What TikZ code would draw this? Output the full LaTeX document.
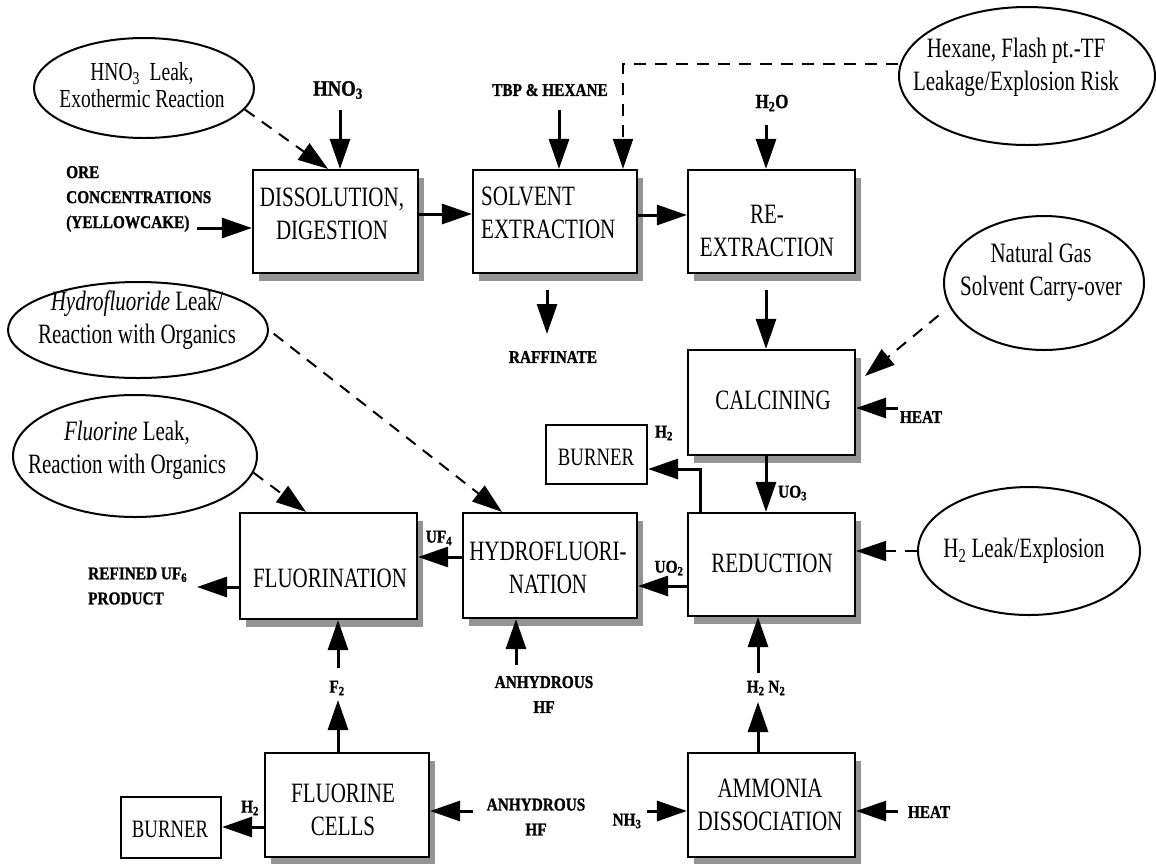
\documentclass[tikz,border=0pt]{standalone}
\usepackage{fontspec}
\usetikzlibrary{arrows.meta,shapes.geometric,shadows}
\newfontfamily\txtfont[FakeStretch=0.75]{Liberation Serif}
\newfontfamily\lblfont[FakeStretch=0.85,FakeBold=1.2]{Liberation Serif}

\tikzset{
  procbox/.style={draw, line width=2.2pt, fill=white, inner sep=0pt,
    drop shadow={shadow xshift=6pt, shadow yshift=-8pt, fill=black!42, opacity=1}},
  burnerbox/.style={draw, line width=2.2pt, fill=white, inner sep=0pt},
  boxtext/.style={font=\txtfont\fontsize{28}{33}\selectfont, align=center, inner sep=0pt},
  burnertext/.style={font=\txtfont\fontsize{25}{30}\selectfont, inner sep=0pt},
  hazard/.style={draw, ellipse, line width=2pt, inner sep=0pt},
  hazardtext/.style={font=\txtfont\fontsize{28}{33}\selectfont, align=center, inner sep=0pt},
  tag/.style={font=\lblfont\bfseries\fontsize{18}{25}\selectfont, inner sep=0pt, align=center},
  flow/.style={line width=3pt, -{Triangle[length=30pt,width=20pt]}},
  risk/.style={line width=2pt, dash pattern=on 12pt off 9pt, -{Triangle[length=30pt,width=20pt]}},
}

\begin{document}
\begin{tikzpicture}[x=1pt,y=-1pt]
\fill[white] (0,0) rectangle (1156,863);
\useasboundingbox (0,0) rectangle (1156,863);

% ---------- process boxes ----------
\node[procbox, minimum width=165pt, minimum height=103pt] (dis) at (335.5,221.5) {};
\node[procbox, minimum width=164pt, minimum height=103pt] (sol) at (555,221.5) {};
\node[procbox, minimum width=167pt, minimum height=103pt] (rex) at (771.5,221.5) {};
\node[procbox, minimum width=167pt, minimum height=105pt] (cal) at (771.5,402.5) {};
\node[procbox, minimum width=167pt, minimum height=103pt] (red) at (771.5,564.5) {};
\node[procbox, minimum width=174pt, minimum height=105pt] (hyd) at (550,565.5) {};
\node[procbox, minimum width=177pt, minimum height=106pt] (flu) at (328.5,566) {};
\node[procbox, minimum width=164pt, minimum height=104pt] (fc) at (347,805) {};
\node[procbox, minimum width=167pt, minimum height=104pt] (amm) at (771.5,805) {};
\node[burnerbox, minimum width=101pt, minimum height=59pt] (burnA) at (596.5,454.5) {};
\node[burnerbox, minimum width=100pt, minimum height=61pt] (burnB) at (171,827.5) {};

% ---------- box captions ----------
\node[boxtext] (dist) at (332,213.5) {DISSOLUTION,\\DIGESTION};
\node[boxtext, align=left, anchor=west] (solt) at (481,212.5) {SOLVENT\\EXTRACTION};
\node[boxtext] (rext) at (767,231) {RE-\\EXTRACTION};
\node[boxtext] (calt) at (773,400) {CALCINING};
\node[boxtext] (redt) at (772,563) {REDUCTION};
\node[boxtext] (hydt) at (548,568) {HYDROFLUORI-\\NATION};
\node[boxtext] (flut) at (330,578) {FLUORINATION};
\node[boxtext] (fct) at (343,809.5) {FLUORINE\\CELLS};
\node[boxtext] (ammt) at (770,805) {AMMONIA\\DISSOCIATION};
\node[burnertext] (burnAt) at (596,457) {BURNER};
\node[burnertext] (burnBt) at (170,829) {BURNER};

% ---------- hazard ellipses ----------
\node[hazard, minimum width=220pt, minimum height=100pt] (ell1) at (144,88) {};
\node[hazardtext, font=\txtfont\fontsize{26}{27}\selectfont] (ell1t) at (142,85) {HNO\textsubscript{3}\ \ Leak,\\Exothermic Reaction};
\node[hazard, minimum width=256pt, minimum height=138pt] (ell2) at (1027,76) {};
\node[hazardtext] (ell2t) at (1016,67.5) {Hexane, Flash pt.-TF\\Leakage/Explosion Risk};
\node[hazard, minimum width=200pt, minimum height=134pt] (ell3) at (1044,283) {};
\node[hazardtext] (ell3t) at (1041,272.5) {Natural Gas\\Solvent Carry-over};
\node[hazard, minimum width=260pt, minimum height=96pt] (ell4) at (138,330) {};
\node[hazardtext] (ell4t) at (137,320) {\textit{Hydrofluoride} Leak/\\Reaction with Organics};
\node[hazard, minimum width=244pt, minimum height=122pt] (ell5) at (135,456) {};
\node[hazardtext] (ell5t) at (127,450.5) {\textit{Fluorine} Leak,\\Reaction with Organics};
\node[hazard, minimum width=222pt, minimum height=128pt] (ell6) at (1029,551) {};
\node[hazardtext] (ell6t) at (1024,551) {H\textsubscript{2} Leak/Explosion};

% ---------- stream labels ----------
\node[tag, font=\lblfont\bfseries\fontsize{22}{25}\selectfont] (hno3t) at (338,90) {HNO\textsubscript{3}};
\node[tag, align=left, anchor=west] (oret) at (66,199) {ORE\\CONCENTRATIONS\\(YELLOWCAKE)};
\node[tag] (tbpt) at (550,90) {TBP \& HEXANE};
\node[tag, font=\lblfont\bfseries\fontsize{20}{25}\selectfont] (h2ot) at (772,103) {H\textsubscript{2}O};
\node[tag] (raft) at (553,357) {RAFFINATE};
\node[tag] (heatAt) at (921,417) {HEAT};
\node[tag, anchor=west] (uo3t) at (778,493) {UO\textsubscript{3}};
\node[tag] (h2At) at (664,433) {H\textsubscript{2}};
\node[tag] (uo2t) at (669,568) {UO\textsubscript{2}};
\node[tag] (uf4t) at (439,538) {UF\textsubscript{4}};
\node[tag, align=left, anchor=west] (prodt) at (88,586) {REFINED UF\textsubscript{6}\\PRODUCT};
\node[tag] (hfAt) at (544,694.5) {ANHYDROUS\\HF};
\node[tag] (hfBt) at (536,817) {ANHYDROUS\\HF};
\node[tag] (f2t) at (337,688) {F\textsubscript{2}};
\node[tag] (h2Bt) at (250,808) {H\textsubscript{2}};
\node[tag] (nh3t) at (627,821) {NH\textsubscript{3}};
\node[tag] (heatBt) at (929,812) {HEAT};
\node[tag] (h2n2t) at (766,688) {H\textsubscript{2} N\textsubscript{2}};

% ---------- free ends of the streams ----------
\coordinate (hno3s) at (340,110);
\coordinate (ores) at (197,228);
\coordinate (tbps) at (559,110);
\coordinate (h2os) at (766,125);
\coordinate (rafs) at (547,290);
\coordinate (rafe) at (547,334);
\coordinate (rexout) at (766,290);
\coordinate (heatAs) at (898,408);
\coordinate (prode) at (197,587);
\coordinate (hfAs) at (516,665);
\coordinate (f2a) at (338,700);
\coordinate (f2b) at (338,668);
\coordinate (hfBs) at (473,811);
\coordinate (nh3s) at (647,811);
\coordinate (heatBs) at (898,811);
\coordinate (n2a) at (758,702);
\coordinate (n2b) at (758,673);
\coordinate (hexc) at (623,64);
\coordinate (calrisk) at (865,376);

% ---------- process streams ----------
\draw[flow] (hno3s) -- (hno3s |- dis.north);
\draw[flow] (ores) -- (ores -| dis.west);
\draw[flow] (dis.east |- 0,214) -- (sol.west |- 0,214);
\draw[flow] (tbps) -- (tbps |- sol.north);
\draw[flow] (sol.east |- 0,215) -- (rex.west |- 0,215);
\draw[flow] (h2os) -- (h2os |- rex.north);
\draw[flow] (rafs) -- (rafe);
\draw[flow] (rexout) -- (rexout |- cal.north);
\draw[flow] (heatAs) -- (heatAs -| cal.east);
\draw[flow] (cal.south -| 766,0) -- (red.north -| 766,0);
\draw[flow] (red.north -| 700,0) |- (burnA.east |- 0,469);
\draw[flow] (red.west |- 0,586) -- (hyd.east |- 0,586);
\draw[flow] (hyd.west |- 0,557) -- (flu.east |- 0,557);
\draw[flow] (flu.west |- prode) -- (prode);
\draw[flow] (hfAs) -- (hfAs |- hyd.south);
\draw[flow] (fc.north -| f2a) -- (f2a);
\draw[flow] (f2b) -- (f2b |- flu.south);
\draw[flow] (fc.west |- 0,827) -- (burnB.east |- 0,827);
\draw[flow] (hfBs) -- (hfBs -| fc.east);
\draw[flow] (nh3s) -- (nh3s -| amm.west);
\draw[flow] (heatBs) -- (heatBs -| amm.east);
\draw[flow] (amm.north -| n2a) -- (n2a);
\draw[flow] (n2b) -- (n2b |- red.south);

% ---------- hazard links ----------
\draw[risk] (ell1.-12) -- (dis.north -| 328,0);
\draw[risk] (ell2.west |- hexc) -- (hexc) -- (hexc |- sol.north);
\draw[risk, shorten <=14pt] (ell3.194) -- (calrisk);
\draw[risk, shorten <=6pt] (ell4.east) -- (hyd.north -| 502,0);
\draw[risk] (ell5.-8) -- (flu.north -| 306,0);
\draw[risk] (ell6.west) -- (ell6.west -| red.east);
\end{tikzpicture}
\end{document}
